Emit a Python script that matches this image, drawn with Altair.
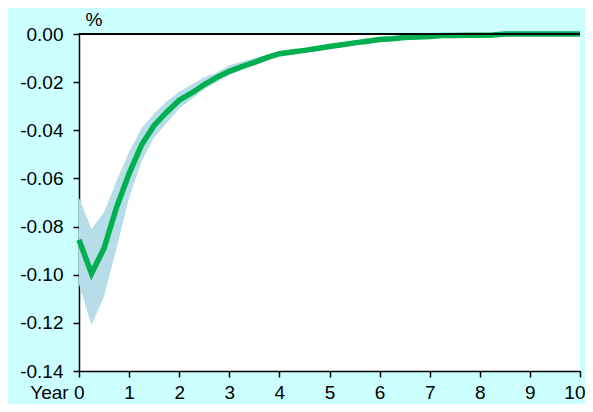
import altair as alt
import pandas as pd

years = [i * 0.25 for i in range(41)]
response = [-0.0855, -0.0995, -0.089, -0.072, -0.058, -0.046, -0.038, -0.0325, -0.0275,
            -0.0245, -0.021, -0.018, -0.0155, -0.0135, -0.0118, -0.0098, -0.0082, -0.0075,
            -0.0068, -0.006, -0.0052, -0.0045, -0.0037, -0.003, -0.0023, -0.002, -0.0015,
            -0.0012, -0.001, -0.0006, -0.0006, -0.0005, -0.0005, -0.0004, 0.0, 0.0, 0.0,
            0.0, 0.0, 0.0, 0.0]
lower = [-0.104, -0.121, -0.109, -0.089, -0.068, -0.053, -0.043, -0.037, -0.031,
         -0.027, -0.023, -0.020, -0.017, -0.015, -0.013, -0.011, -0.0095, -0.0085,
         -0.0077, -0.0068, -0.006, -0.0052, -0.0044, -0.0037, -0.003, -0.0026, -0.002,
         -0.0017, -0.0015, -0.001, -0.001, -0.0009, -0.0009, -0.0008, -0.0004, -0.0004,
         -0.0003, -0.0003, -0.0003, -0.0003, -0.0003]
upper = [-0.068, -0.081, -0.074, -0.061, -0.049, -0.039, -0.033, -0.028, -0.024,
         -0.021, -0.018, -0.016, -0.013, -0.0115, -0.010, -0.0088, -0.0072, -0.0066,
         -0.006, -0.0053, -0.0045, -0.0039, -0.0031, -0.0024, -0.0017, -0.0015, -0.001,
         -0.0008, -0.0006, -0.0003, -0.0003, -0.0002, -0.0002, -0.0001, 0.0, 0.0, 0.0,
         0.0, 0.0, 0.0, 0.0]
x_ticks = list(range(0, 11))
y_ticks = [0.0, -0.02, -0.04, -0.06, -0.08, -0.10, -0.12, -0.14]

df = pd.DataFrame({"year": years, "value": response, "lo": lower, "hi": upper})
zero = pd.DataFrame({"y": [0.0]})

FONT = "Liberation Sans"

x_scale = alt.Scale(domain=[0, 10], nice=False, zero=False)
y_scale = alt.Scale(domain=[-0.14, 0.0], nice=False, zero=False)

x_axis = alt.Axis(
    values=x_ticks, title=None, grid=False,
    labelExpr="datum.value == 0 ? 'Year 0' : datum.label",
    labelAlign=alt.expr("datum.value == 0 ? 'right' : (datum.value == 10 ? 'right' : 'center')"),
    labelOffset=alt.expr("datum.value == 0 ? 5 : (datum.value == 10 ? 5 : 0)"),
    labelFont=FONT, labelFontSize=19, labelColor="black", labelPadding=6,
    domainColor="black", domainWidth=1.5, tickColor="black", tickWidth=1.5,
    tickSize=6, labelFlush=False, labelOverlap=False,
)
y_axis = alt.Axis(
    values=y_ticks, grid=False,
    labelExpr="(datum.value < 0 ? '-' : '') + format(abs(datum.value), '.2f')",
    labelFont=FONT, labelFontSize=19, labelColor="black", labelPadding=10,
    domainColor="black", domainWidth=1.5, tickColor="black", tickWidth=1.5,
    tickSize=6, labelFlush=False, labelOverlap=False,
    title="%", titleAngle=0, titleX=6, titleY=-5, titleAlign="left",
    titleBaseline="bottom", titleFont=FONT, titleFontSize=19,
    titleFontWeight="normal", titleColor="black",
)

band = alt.Chart(df).mark_area(color="#B7DDE8", opacity=1).encode(
    x=alt.X("year:Q", scale=x_scale, axis=x_axis),
    y=alt.Y("lo:Q", scale=y_scale, axis=y_axis),
    y2="hi:Q",
)
line = alt.Chart(df).mark_line(color="#00B050", strokeWidth=5.5).encode(
    x=alt.X("year:Q", scale=x_scale),
    y=alt.Y("value:Q", scale=y_scale),
)
rule = alt.Chart(zero).mark_rule(color="black", strokeWidth=2).encode(
    y=alt.Y("y:Q", scale=y_scale),
)

chart = alt.layer(band, line, rule).properties(
    width=501, height=337,
    autosize=alt.AutoSizeParams(type="none"),
    padding={"left": 71, "top": 26, "right": 5, "bottom": 33},
    background="#CCFFFF",
).configure_view(fill="white", stroke=None)

chart.save("out.html", embed_options={"renderer": "svg", "actions": False})
